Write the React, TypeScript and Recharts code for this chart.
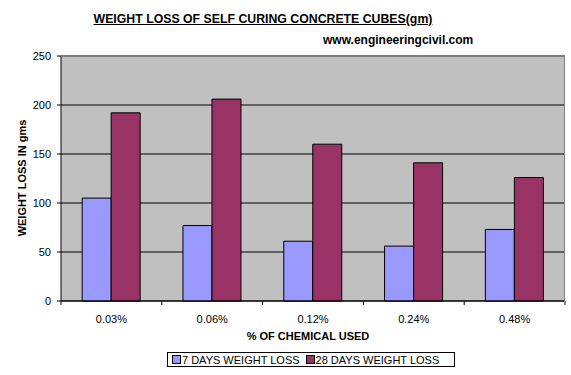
import React from "react";
import { BarChart, Bar, XAxis, YAxis, CartesianGrid } from "recharts";

const categories = ["0.03%", "0.06%", "0.12%", "0.24%", "0.48%"];
const sevenDays = [105, 77, 61, 56, 73];
const twentyEightDays = [192, 206, 160, 141, 126];
const yTicks = [0, 50, 100, 150, 200, 250];
const seriesNames = ["7 DAYS WEIGHT LOSS", "28 DAYS WEIGHT LOSS"];
const seriesColors = ["#9999FF", "#993366"];
const title = "WEIGHT LOSS OF SELF CURING CONCRETE CUBES(gm)";
const subtitle = "www.engineeringcivil.com";
const yLabel = "WEIGHT LOSS IN gms";
const xLabel = "% OF CHEMICAL USED";

const data = categories.map((c, i) => ({
  cat: c,
  d7: sevenDays[i],
  d28: twentyEightDays[i],
}));

const FONT = "Arial, 'Liberation Sans', sans-serif";

const XTick = (props: any) => {
  const { x, y, payload, width, visibleTicksCount, index } = props;
  const band = width / (visibleTicksCount || categories.length);
  return (
    <g>
      {index === 0 && (
        <line x1={x - band / 2} x2={x - band / 2} y1={y - 8} y2={y - 4} stroke="#000" />
      )}
      <line x1={x + band / 2} x2={x + band / 2} y1={y - 8} y2={y - 4} stroke="#000" />
      <text
        x={x}
        y={y + 6}
        dy="0.71em"
        textAnchor="middle"
        fontSize={11}
        fontFamily={FONT}
        fill="#000"
      >
        {payload.value}
      </text>
    </g>
  );
};

export default function App() {
  return (
    <div
      style={{
        position: "absolute",
        left: 0,
        top: 0,
        width: 571,
        height: 375,
        background: "#fff",
        fontFamily: FONT,
      }}
    >
      <BarChart
        width={571}
        height={375}
        data={data}
        margin={{ top: 56, right: 6, left: 0, bottom: 44 }}
        barCategoryGap="21%"
        barGap={0}
      >
        <CartesianGrid
          vertical={false}
          stroke="#000"
          fill="#C0C0C0"
          fillOpacity={1}
        />
        <XAxis
          dataKey="cat"
          height={30}
          tickLine={false}
          axisLine={{ stroke: "#000" }}
          tick={<XTick />}
          interval={0}
        />
        <YAxis
          width={61}
          domain={[0, 250]}
          ticks={yTicks}
          tickSize={4}
          tickMargin={6}
          axisLine={{ stroke: "#000" }}
          tickLine={{ stroke: "#000" }}
          tick={{ fontSize: 11, fill: "#000", fontFamily: FONT }}
        />
        <Bar
          dataKey="d7"
          name={seriesNames[0]}
          fill={seriesColors[0]}
          stroke="#000"
          strokeWidth={1}
          isAnimationActive={false}
        />
        <Bar
          dataKey="d28"
          name={seriesNames[1]}
          fill={seriesColors[1]}
          stroke="#000"
          strokeWidth={1}
          isAnimationActive={false}
        />
      </BarChart>
      <div
        style={{
          position: "absolute",
          left: 61,
          top: 56,
          width: 503,
          height: 245,
          borderTop: "1px solid #808080",
          borderRight: "1px solid #808080",
          pointerEvents: "none",
        }}
      />
      <div
        style={{
          position: "absolute",
          left: 0,
          width: 526,
          top: 12,
          textAlign: "center",
          fontSize: 12.3,
          fontWeight: "bold",
          textDecoration: "underline",
          whiteSpace: "nowrap",
        }}
      >
        {title}
      </div>
      <div
        style={{
          position: "absolute",
          left: 323,
          top: 33,
          fontSize: 12,
          fontWeight: "bold",
          whiteSpace: "nowrap",
        }}
      >
        {subtitle}
      </div>
      <div
        style={{
          position: "absolute",
          left: 22,
          top: 178,
          transform: "translate(-50%, -50%) rotate(-90deg)",
          fontSize: 11,
          fontWeight: "bold",
          whiteSpace: "nowrap",
        }}
      >
        {yLabel}
      </div>
      <div
        style={{
          position: "absolute",
          left: 0,
          width: 616,
          top: 330,
          textAlign: "center",
          fontSize: 11,
          fontWeight: "bold",
          whiteSpace: "nowrap",
        }}
      >
        {xLabel}
      </div>
      <div
        style={{
          position: "absolute",
          left: 167,
          top: 352,
          width: 288,
          height: 15,
          border: "1px solid #000",
          display: "flex",
          alignItems: "center",
          fontSize: 11,
          whiteSpace: "nowrap",
          paddingLeft: 4,
          boxSizing: "border-box",
        }}
      >
        {seriesNames.map((n, i) => (
          <span
            key={n}
            style={{ display: "inline-flex", alignItems: "center", marginRight: 6 }}
          >
            <span
              style={{
                display: "inline-block",
                width: 7,
                height: 7,
                background: seriesColors[i],
                border: "1px solid #000",
                marginRight: 1,
              }}
            />
            {n}
          </span>
        ))}
      </div>
    </div>
  );
}
